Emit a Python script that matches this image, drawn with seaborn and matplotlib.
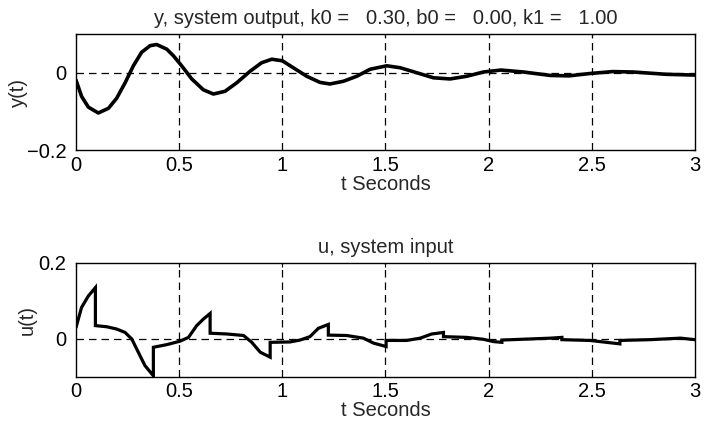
import numpy as np
import pandas as pd
import matplotlib
matplotlib.use("Agg")
import matplotlib.pyplot as plt
import seaborn as sns

# ---- data ----
t_y = [0.0, 0.027, 0.060, 0.108, 0.157, 0.197, 0.238, 0.278, 0.318, 0.359, 0.391,
       0.440, 0.472, 0.512, 0.561, 0.617, 0.666, 0.722, 0.779, 0.844, 0.900, 0.949,
       1.000, 1.053, 1.118, 1.183, 1.231, 1.296, 1.361, 1.425, 1.506, 1.571, 1.652,
       1.732, 1.813, 1.894, 1.975, 2.060, 2.168, 2.30, 2.39, 2.49, 2.60, 2.70, 2.86,
       3.0]
y_vals = [-0.019, -0.061, -0.089, -0.104, -0.092, -0.066, -0.026, 0.018, 0.053, 0.070,
          0.073, 0.061, 0.044, 0.018, -0.016, -0.044, -0.055, -0.048, -0.026, 0.004,
          0.026, 0.035, 0.031, 0.013, -0.009, -0.025, -0.029, -0.022, -0.009, 0.009,
          0.018, 0.013, 0.000, -0.013, -0.016, -0.009, 0.002, 0.007, 0.002, -0.007,
          -0.008, -0.002, 0.003, 0.002, -0.004, -0.006]

t_u = [0.0, 0.027, 0.060, 0.094, 0.094, 0.149, 0.197, 0.238, 0.270, 0.302, 0.334,
       0.375, 0.375, 0.440, 0.504, 0.545, 0.585, 0.617, 0.650, 0.650, 0.731, 0.812,
       0.852, 0.893, 0.941, 0.941, 1.037, 1.086, 1.134, 1.175, 1.223, 1.223, 1.312,
       1.393, 1.442, 1.503, 1.503, 1.603, 1.668, 1.724, 1.781, 1.781, 1.894, 1.975,
       2.023, 2.064, 2.064, 2.30, 2.355, 2.355, 2.49, 2.636, 2.636, 2.78, 2.93, 3.0]
u_vals = [0.030, 0.083, 0.113, 0.135, 0.035, 0.032, 0.026, 0.017, 0.000, -0.035,
          -0.070, -0.097, -0.022, -0.015, -0.006, 0.004, 0.035, 0.052, 0.067, 0.015,
          0.013, 0.009, -0.009, -0.035, -0.048, -0.009, -0.008, -0.003, 0.006, 0.028,
          0.038, 0.010, 0.009, 0.002, -0.011, -0.020, -0.004, -0.004, 0.002, 0.013,
          0.017, 0.006, 0.004, -0.001, -0.007, -0.009, -0.003, 0.002, 0.004, -0.002,
          -0.004, -0.013, -0.004, -0.002, 0.002, -0.002]

x_ticks = [0, 0.5, 1, 1.5, 2, 2.5, 3]
x_ticklabels = ["0", "0.5", "1", "1.5", "2", "2.5", "3"]
top_title = "y, system output, k0 =   0.30, b0 =   0.00, k1 =   1.00"
bot_title = "u, system input"

sns.set_style("white")
plt.rcParams["font.family"] = ["Liberation Sans", "DejaVu Sans"]
FS = 14.5

fig = plt.figure(figsize=(7.07, 4.24), dpi=100)
ax1 = fig.add_axes([0.1075, 0.646, 0.8755, 0.2736])
ax2 = fig.add_axes([0.1075, 0.111, 0.8755, 0.269])

df_y = pd.DataFrame({"t": t_y, "v": y_vals})
df_u = pd.DataFrame({"t": t_u, "v": u_vals})

sns.lineplot(data=df_y, x="t", y="v", ax=ax1, color="black", lw=2.6,
             estimator=None, sort=False, solid_joinstyle="round")
sns.lineplot(data=df_u, x="t", y="v", ax=ax2, color="black", lw=2.3,
             estimator=None, sort=False, solid_joinstyle="miter")

def style(ax, ylim, yticks, yticklabels, ylabel, title, ylab_x):
    ax.set_xlim(0, 3)
    ax.set_ylim(*ylim)
    ax.set_xticks(x_ticks)
    ax.set_xticklabels(x_ticklabels)
    ax.set_yticks(yticks)
    ax.set_yticklabels(yticklabels)
    for xv in x_ticks[1:-1]:
        ax.axvline(xv, color="black", lw=0.9, ls=(0, (6, 4)), zorder=0)
    ax.axhline(0, color="black", lw=0.9, ls=(0, (6, 4)), zorder=0)
    ax.tick_params(axis="both", direction="in", length=3, width=0.8,
                   labelsize=FS, colors="black", top=True, right=True)
    ax.tick_params(axis="x", pad=4)
    ax.tick_params(axis="y", pad=7)
    ax.set_xlabel("t Seconds", fontsize=FS, labelpad=0)
    ax.set_ylabel(ylabel, fontsize=FS)
    ax.yaxis.set_label_coords(ylab_x, 0.5)
    ax.set_title(title, fontsize=FS, pad=7)
    for s in ax.spines.values():
        s.set_color("black")
        s.set_linewidth(1.0)

style(ax1, (-0.2, 0.1), [-0.2, 0], ["\u22120.2", "0"], "y(t)", top_title, -0.0775)
style(ax2, (-0.1, 0.2), [0, 0.2], ["0", "0.2"], "u(t)", bot_title, -0.063)

fig.savefig("out.png", dpi=100)
